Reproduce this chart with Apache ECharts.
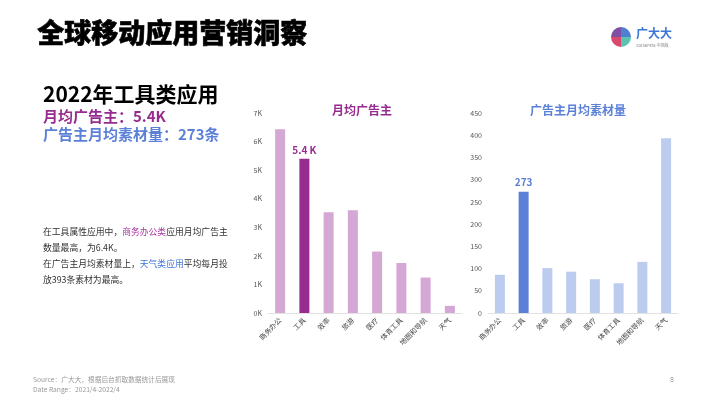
<!DOCTYPE html>
<html>
<head>
<meta charset="utf-8">
<script src="https://cdn.jsdelivr.net/npm/echarts@6/dist/echarts.min.js"></script>
<style>
  html, body { margin: 0; padding: 0; background: #fff; }
  #main { width: 710px; height: 399px; }
</style>
</head>
<body>
<div id="main"></div>
<script>
// 数据
const categories = ['商务办公', '工具', '效率', '旅游', '医疗', '体育工具', '地图和导航', '天气'];
const advertisers = [6430, 5400, 3530, 3600, 2150, 1750, 1240, 250];
const creatives = [86, 273, 101, 93, 76, 67, 115, 393];
const highlightIndex = 1;

const FONT = '"Noto Sans CJK SC", "Noto Sans", sans-serif';
const purple = '#962C8F';
const purpleLight = '#D4A7D5';
const blue = '#5B80D8';
const blueLight = '#BCCCEE';

function barData(values, base, hi) {
  return values.map((v, i) => ({
    value: v,
    itemStyle: { color: i === highlightIndex ? hi : base },
    label: i === highlightIndex ? { show: true } : { show: false }
  }));
}

const chart = echarts.init(document.getElementById('main'));

const xAxisCommon = {
  type: 'category',
  data: categories,
  axisLine: { lineStyle: { color: '#e2e2e2' } },
  axisTick: { show: false },
  axisLabel: { rotate: 45, fontSize: 7, color: '#444', fontFamily: FONT, margin: 6, interval: 0 }
};
const yAxisCommon = {
  type: 'value',
  min: 0,
  axisLine: { show: false },
  axisTick: { show: false },
  splitLine: { show: false },
  axisLabel: { fontSize: 7, color: '#555', fontFamily: FONT, margin: 6 }
};

let option = {
  animation: false,
  backgroundColor: '#fff',
  title: [
    {
      text: '月均广告主', left: 357, top: 99, textAlign: 'center',
      textStyle: { color: purple, fontSize: 12, fontWeight: 'bold', fontFamily: FONT }
    },
    {
      text: '广告主月均素材量', left: 573, top: 99, textAlign: 'center',
      textStyle: { color: blue, fontSize: 12, fontWeight: 'bold', fontFamily: FONT }
    }
  ],
  grid: [
    { left: 268, right: 248, top: 113, bottom: 86 },
    { left: 488, right: 32, top: 113, bottom: 86 }
  ],
  xAxis: [
    Object.assign({ gridIndex: 0 }, xAxisCommon),
    Object.assign({ gridIndex: 1 }, xAxisCommon)
  ],
  yAxis: [
    Object.assign({}, yAxisCommon, {
      gridIndex: 0, max: 7000, interval: 1000,
      axisLabel: Object.assign({}, yAxisCommon.axisLabel, { formatter: v => (v / 1000) + 'K' })
    }),
    Object.assign({}, yAxisCommon, { gridIndex: 1, max: 450, interval: 50 })
  ],
  series: [
    {
      type: 'bar', xAxisIndex: 0, yAxisIndex: 0, barWidth: 10,
      data: barData(advertisers, purpleLight, purple),
      label: {
        position: 'top', distance: 4, color: purple, fontSize: 10, fontWeight: 'bold', fontFamily: FONT,
        formatter: p => (p.value / 1000).toFixed(1) + ' K'
      }
    },
    {
      type: 'bar', xAxisIndex: 1, yAxisIndex: 1, barWidth: 10,
      data: barData(creatives, blueLight, blue),
      label: {
        position: 'top', distance: 4, color: blue, fontSize: 10, fontWeight: 'bold', fontFamily: FONT
      }
    }
  ],
  graphic: [
    {
      type: 'text', left: 37, top: 19,
      style: { text: '全球移动应用营销洞察', fill: '#000', font: '900 27px ' + FONT, stroke: '#000', lineWidth: 0.6 }
    },
    // logo
    { type: 'sector', shape: { cx: 621, cy: 37, r: 10, startAngle: Math.PI, endAngle: Math.PI * 1.5 }, style: { fill: '#7E4FA3' } },
    { type: 'sector', shape: { cx: 621, cy: 37, r: 10, startAngle: Math.PI * 1.5, endAngle: Math.PI * 2 }, style: { fill: '#4E7FD0' } },
    { type: 'sector', shape: { cx: 621, cy: 37, r: 10, startAngle: Math.PI * 0.5, endAngle: Math.PI }, style: { fill: '#D9486E' } },
    { type: 'sector', shape: { cx: 621, cy: 37, r: 10, startAngle: 0, endAngle: Math.PI * 0.5 }, style: { fill: '#5CC2B2' } },
    {
      type: 'text', left: 636, top: 27,
      style: { text: '广大大', fill: '#3A78D6', font: 'bold 12px ' + FONT }
    },
    {
      type: 'text', left: 636, top: 43,
      style: { text: 'SocialPeta 中国版', fill: '#888', font: '4px ' + FONT }
    },
    {
      type: 'text', left: 43, top: 84,
      style: { text: '2022年工具类应用', fill: '#000', font: 'bold 21px ' + FONT }
    },
    {
      type: 'text', left: 43, top: 109,
      style: { text: '月均广告主：5.4K', fill: purple, font: 'bold 15px ' + FONT }
    },
    {
      type: 'text', left: 43, top: 126.5,
      style: { text: '广告主月均素材量：273条', fill: blue, font: 'bold 15px ' + FONT }
    },
    {
      type: 'text', left: 43, top: 223,
      style: {
        text: '在工具属性应用中，{p|商务办公类}应用月均广告主\n数量最高，为6.4K。\n在广告主月均素材量上，{b|天气类应用}平均每月投\n放393条素材为最高。',
        fill: '#333', font: '8.8px ' + FONT, lineHeight: 16.3,
        rich: {
          p: { fill: '#A8329E', fontSize: 8.8, fontFamily: FONT, lineHeight: 16.3 },
          b: { fill: '#3F74D6', fontSize: 8.8, fontFamily: FONT, lineHeight: 16.3 }
        }
      }
    },
    {
      type: 'text', left: 33, top: 375,
      style: { text: 'Source：广大大，根据后台抓取数据统计后展现\nDate Range：2021/4-2022/4', fill: '#999', font: '6.7px ' + FONT, lineHeight: 9.5 }
    },
    {
      type: 'text', left: 670, top: 376,
      style: { text: '8', fill: '#999', font: '7px ' + FONT }
    }
  ]
};

chart.setOption(option);
</script>
</body>
</html>
